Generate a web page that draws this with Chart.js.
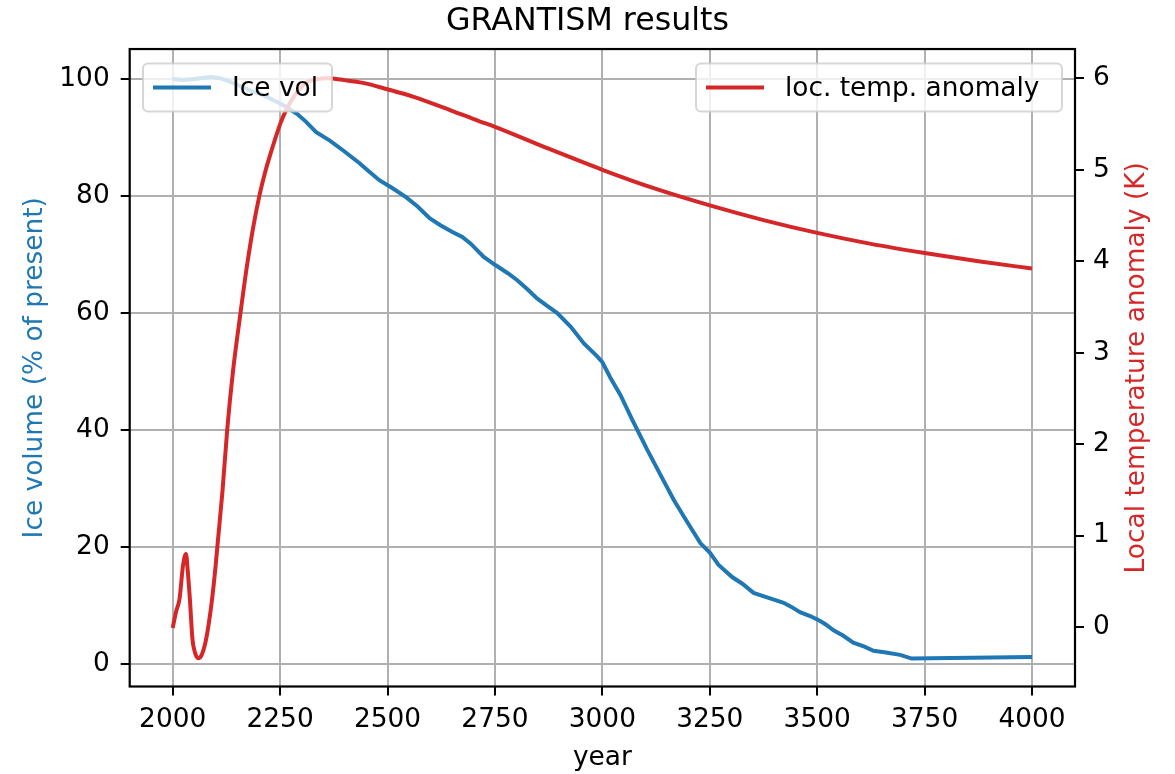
<!DOCTYPE html>
<html>
<head>
<meta charset="utf-8">
<script src="https://cdn.jsdelivr.net/npm/chart.js@4.4.1/dist/chart.umd.min.js"></script>
<style>
  html, body { margin: 0; padding: 0; background: #ffffff; }
  #wrap { width: 1175px; height: 774px; position: relative; }
</style>
</head>
<body>
<div id="wrap"><canvas id="c" width="1175" height="774"></canvas></div>
<script>
const chartTitle = "GRANTISM results";
const xAxisTitle = "year";
const leftAxisTitle = "Ice volume (% of present)";
const rightAxisTitle = "Local temperature anomaly (K)";
const seriesLabels = ["Ice vol", "loc. temp. anomaly"];

const iceYears = [2000, 2025, 2050, 2088, 2110, 2127, 2150, 2181, 2209, 2228, 2260, 2290, 2310, 2334, 2365, 2400, 2435, 2455, 2481, 2510, 2543, 2570, 2598, 2623, 2650, 2674, 2693, 2724, 2751, 2780, 2802, 2825, 2848, 2870, 2895, 2926, 2957, 2988, 3000, 3019, 3042, 3070, 3104, 3135, 3166, 3195, 3228, 3251, 3270, 3302, 3325, 3352, 3385, 3422, 3440, 3460, 3485, 3507, 3520, 3538, 3560, 3584, 3610, 3631, 3660, 3693, 3720, 4000];
const iceValues = [100, 99.8, 100.0, 100.3, 100.1, 99.7, 99.0, 98.0, 97.3, 96.6, 95.4, 94.0, 92.7, 90.9, 89.5, 87.6, 85.6, 84.3, 82.7, 81.4, 79.8, 78.2, 76.2, 75.0, 73.9, 73.0, 71.9, 69.6, 68.2, 66.8, 65.6, 64.1, 62.5, 61.3, 60.0, 57.7, 54.8, 52.6, 51.6, 48.9, 46.0, 41.7, 36.7, 32.4, 28.1, 24.6, 20.7, 19.0, 17.0, 14.9, 13.8, 12.2, 11.4, 10.5, 9.8, 8.9, 8.2, 7.4, 6.8, 5.8, 4.9, 3.7, 3.0, 2.3, 2.0, 1.6, 0.97, 1.25];

const tempYears = [2000, 2008, 2016, 2024, 2031, 2035, 2040, 2046, 2052, 2059, 2067, 2078, 2090, 2100, 2104, 2116, 2127, 2140, 2158, 2172, 2187, 2202, 2215, 2228, 2251, 2265, 2282, 2297, 2313, 2335, 2360, 2400, 2443, 2500, 2559, 2647, 2714, 2750, 2875, 3000, 3125, 3250, 3375, 3500, 3625, 3750, 3875, 4000];
const tempValues = [-0.01, 0.17, 0.31, 0.67, 0.80, 0.62, 0.31, -0.13, -0.28, -0.34, -0.31, -0.13, 0.24, 0.67, 0.88, 1.49, 2.16, 2.78, 3.44, 3.92, 4.36, 4.72, 4.97, 5.18, 5.51, 5.66, 5.80, 5.89, 5.96, 5.99, 6.0, 5.98, 5.95, 5.88, 5.80, 5.65, 5.53, 5.47, 5.23, 5.0, 4.79, 4.61, 4.45, 4.31, 4.19, 4.09, 4.0, 3.92];

const xTicks = [2000, 2250, 2500, 2750, 3000, 3250, 3500, 3750, 4000];
const leftTicks = [0, 20, 40, 60, 80, 100];
const rightTicks = [0, 1, 2, 3, 4, 5, 6];

const BLUE = '#1f77b4';
const RED = '#d62728';
const FONT = "'DejaVu Sans', sans-serif";
const FS = 26.4;

function toPoints(xs, ys) { return xs.map((x, i) => ({x: x, y: ys[i]})); }
function setTicks(arr) { return function(scale) { scale.ticks = arr.map(v => ({value: v})); }; }

const framePlugin = {
  id: 'frame',
  afterDatasetsDraw(chart) {
    const ctx = chart.ctx;
    const a = chart.chartArea;
    ctx.save();
    // legends
    const legends = [
      {label: chart.data.datasets[0].label, color: chart.data.datasets[0].borderColor, box: [143, 63.5, 189, 48]},
      {label: chart.data.datasets[1].label, color: chart.data.datasets[1].borderColor, box: [696, 63.5, 366, 48]}
    ];
    ctx.font = FS + "px " + FONT;
    legends.forEach(l => {
      const [bx, by, bw, bh] = l.box;
      ctx.beginPath();
      if (ctx.roundRect) ctx.roundRect(bx, by, bw, bh, 5); else ctx.rect(bx, by, bw, bh);
      ctx.fillStyle = 'rgba(255,255,255,0.8)';
      ctx.fill();
      ctx.lineWidth = 2;
      ctx.strokeStyle = 'rgba(204,204,204,0.8)';
      ctx.stroke();
      const cy = by + bh / 2;
      ctx.beginPath();
      ctx.moveTo(bx + 10, cy);
      ctx.lineTo(bx + 68, cy);
      ctx.strokeStyle = l.color;
      ctx.lineWidth = 4;
      ctx.lineCap = 'butt';
      ctx.stroke();
      ctx.fillStyle = '#000';
      ctx.textBaseline = 'middle';
      ctx.textAlign = 'left';
      ctx.fillText(l.label, bx + 89, cy + 1.5);
    });
    // spines
    ctx.lineWidth = 2.2;
    ctx.strokeStyle = '#000';
    ctx.strokeRect(a.left, a.top, a.right - a.left, a.bottom - a.top);
    // right axis title, reading bottom-to-top as in the reference
    ctx.translate(1137, (a.top + a.bottom) / 2);
    ctx.rotate(-Math.PI / 2);
    ctx.fillStyle = RED;
    ctx.textAlign = 'center';
    ctx.textBaseline = 'middle';
    ctx.fillText(rightAxisTitle, 0, 0);
    ctx.restore();
  }
};

const ctx = document.getElementById('c').getContext('2d');
new Chart(ctx, {
  type: 'line',
  data: {
    datasets: [
      {
        label: seriesLabels[0],
        data: toPoints(iceYears, iceValues),
        yAxisID: 'yL',
        borderColor: BLUE,
        backgroundColor: BLUE,
        borderWidth: 4,
        pointRadius: 0,
        tension: 0,
        fill: false,
        order: 1
      },
      {
        label: seriesLabels[1],
        data: toPoints(tempYears, tempValues),
        yAxisID: 'yR',
        borderColor: RED,
        backgroundColor: RED,
        borderWidth: 4,
        pointRadius: 0,
        cubicInterpolationMode: 'monotone',
        fill: false,
        order: 0
      }
    ]
  },
  options: {
    responsive: false,
    animation: false,
    devicePixelRatio: 1,
    layout: { padding: 0 },
    plugins: {
      legend: { display: false },
      tooltip: { enabled: false },
      title: {
        display: true,
        text: chartTitle,
        color: '#000',
        font: { family: FONT, size: 31.7, weight: 'normal', lineHeight: 1.2 },
        padding: { top: 2.7, bottom: 8.3 }
      }
    },
    scales: {
      x: {
        type: 'linear',
        position: 'bottom',
        min: 1900,
        max: 4100,
        afterBuildTicks: setTicks(xTicks),
        afterFit(scale) { scale.height = 87.5; },
        grid: { color: '#b0b0b0', lineWidth: 2, drawTicks: true, tickLength: 9, tickColor: '#000', tickWidth: 2 },
        border: { display: false },
        ticks: { color: '#000', font: { family: FONT, size: FS }, padding: 8.7, maxRotation: 0, autoSkip: false, callback: v => String(v) },
        title: { display: true, text: xAxisTitle, color: '#000', font: { family: FONT, size: FS }, padding: { top: 0, bottom: 0 } }
      },
      yL: {
        type: 'linear',
        position: 'left',
        min: -3.8,
        max: 105.1,
        afterBuildTicks: setTicks(leftTicks),
        afterFit(scale) { scale.width = 129.7; },
        grid: { color: '#b0b0b0', lineWidth: 2, drawTicks: true, tickLength: 9, tickColor: '#000', tickWidth: 2 },
        border: { display: false },
        ticks: { color: '#000', font: { family: FONT, size: FS }, padding: 11, autoSkip: false, callback: v => String(v) },
        title: { display: true, text: leftAxisTitle, color: BLUE, font: { family: FONT, size: FS }, padding: { top: 19, bottom: 0 } }
      },
      yR: {
        type: 'linear',
        position: 'right',
        min: -0.65,
        max: 6.32,
        afterBuildTicks: setTicks(rightTicks),
        afterFit(scale) { scale.width = 100; },
        grid: { drawOnChartArea: false, color: '#b0b0b0', lineWidth: 2, drawTicks: true, tickLength: 9, tickColor: '#000', tickWidth: 2 },
        border: { display: false },
        ticks: { color: '#000', font: { family: FONT, size: FS }, padding: 9, autoSkip: false, callback: v => String(v) },
        title: { display: false, text: rightAxisTitle }
      }
    }
  },
  plugins: [framePlugin]
});
</script>
</body>
</html>
